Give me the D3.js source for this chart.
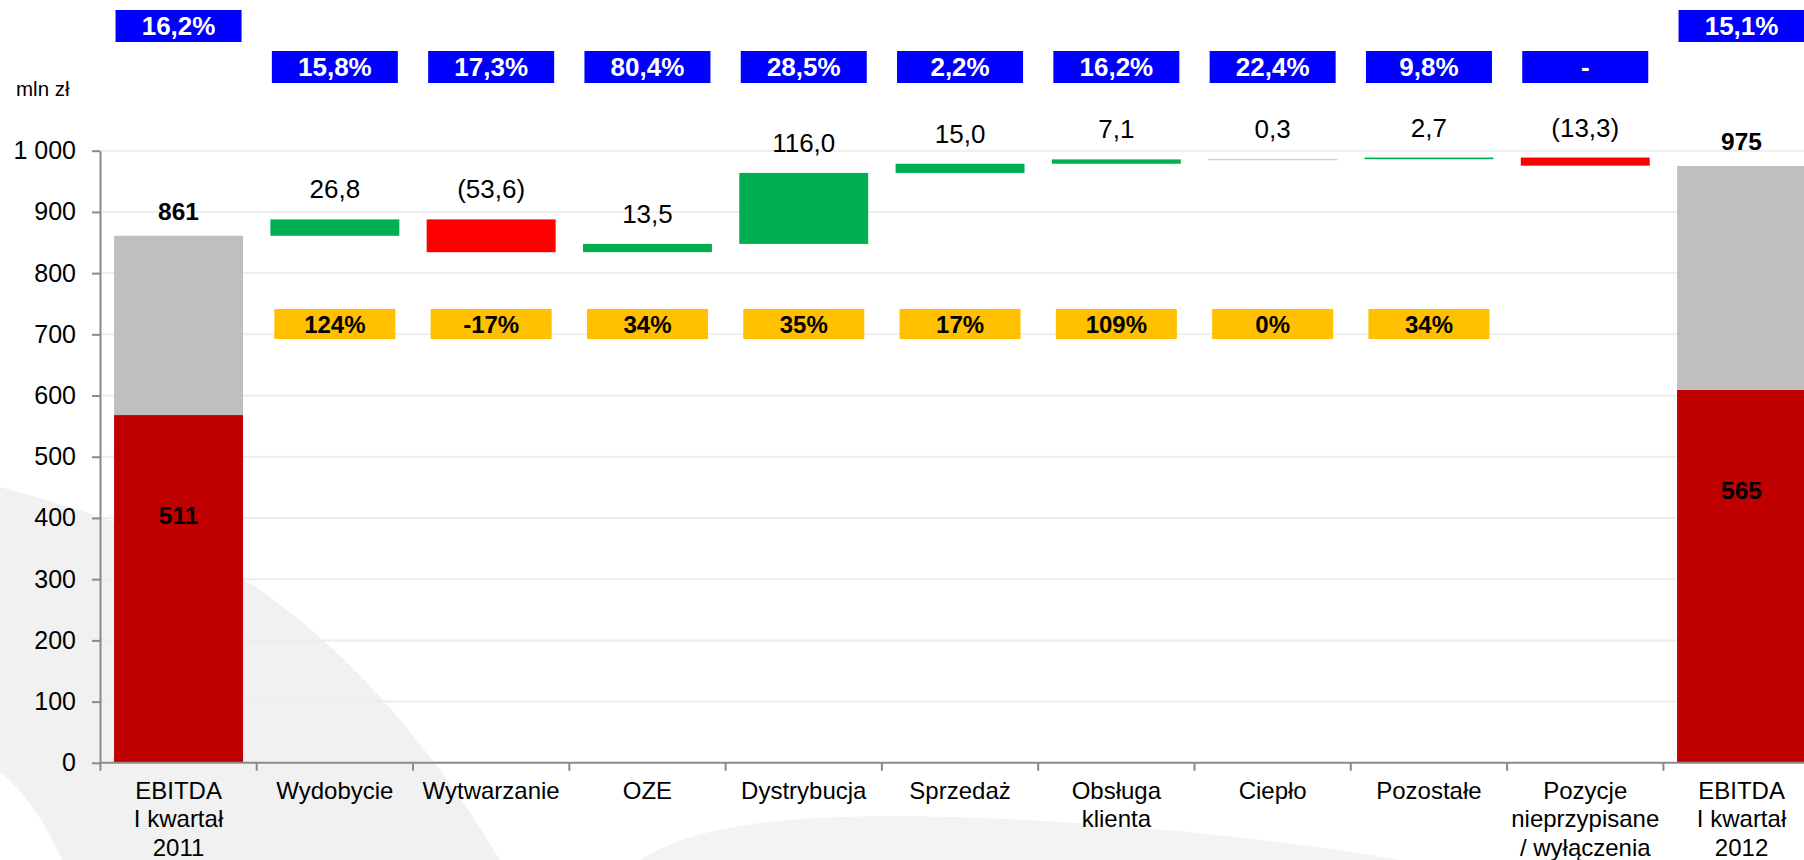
<!DOCTYPE html>
<html>
<head>
<meta charset="utf-8">
<script src="https://cdn.jsdelivr.net/npm/d3@7"></script>
<style>
  body { margin: 0; background: #fff; }
  text { font-family: "Liberation Sans", Arial, sans-serif; }
</style>
</head>
<body>
<div id="chart"></div>
<script>
// EBITDA waterfall: I kwartał 2011 -> I kwartał 2012 (mln zł)

const categories = [
    ["EBITDA", "I kwartał", "2011"],
    ["Wydobycie"],
    ["Wytwarzanie"],
    ["OZE"],
    ["Dystrybucja"],
    ["Sprzedaż"],
    ["Obsługa", "klienta"],
    ["Ciepło"],
    ["Pozostałe"],
    ["Pozycje", "nieprzypisane", "/ wyłączenia"],
    ["EBITDA", "I kwartał", "2012"]
];
const totals = [861, 975];
const deltas = [26.8, -53.6, 13.5, 116.0, 15.0, 7.1, 0.3, 2.7, -13.3];
const redParts = [568, 609];
const redLabels = ["511", "565"];
const marginLabels = ["16,2%", "15,8%", "17,3%", "80,4%", "28,5%", "2,2%", "16,2%", "22,4%", "9,8%", "-", "15,1%"];
const changeLabels = ["124%", "-17%", "34%", "35%", "17%", "109%", "0%", "34%"];
const yTicks = d3.range(0, 1001, 100);

function drawWaterfall() {
    const width = 1804;
    const height = 860;

    const svg = d3.select("#chart").append("svg")
        .attr("width", width)
        .attr("height", height);

    const x = d3.scaleBand()
        .domain(d3.range(categories.length))
        .range([100.4, 1819.7])
        .paddingInner(0.175)
        .paddingOuter(0.0875);

    const y = d3.scaleLinear()
        .domain([0, 1000])
        .range([762.8, 150.7]);

    const pl = d3.formatLocale({ decimal: ",", thousands: " ", grouping: [3], currency: ["", " zł"] });

    // build floating bars
    const rows = [];
    let run = totals[0];
    rows.push({ i: 0, type: "total", lo: 0, hi: totals[0] });
    deltas.forEach((d, k) => {
        const lo = Math.min(run, run + d), hi = Math.max(run, run + d);
        rows.push({ i: k + 1, type: "delta", v: d, lo: lo, hi: hi });
        run += d;
    });
    rows.push({ i: categories.length - 1, type: "total", lo: 0, hi: totals[1] });

    // faint background swoosh
    svg.append("path")
        .attr("d", "M0,487 C120,520 200,550 260,590 C360,660 440,760 500,860 L62,860 C45,822 25,792 0,772 Z")
        .attr("fill", "#f1f1f1");
    svg.append("path")
        .attr("d", "M640,860 C690,828 770,816 900,816 C1100,818 1300,842 1400,860 Z")
        .attr("fill", "#f3f3f3");

    // gridlines
    svg.append("g")
        .selectAll("line")
        .data(yTicks.filter(t => t > 0))
        .enter()
        .append("line")
        .attr("x1", 100).attr("x2", width)
        .attr("y1", d => y(d)).attr("y2", d => y(d))
        .attr("stroke", "#ededed")
        .attr("stroke-width", 2);

    const bw = x.bandwidth();

    // total bars: grey full height + red part
    const totalRows = rows.filter(r => r.type === "total");
    svg.append("g")
        .selectAll("rect")
        .data(totalRows)
        .enter()
        .append("rect")
        .attr("x", d => x(d.i))
        .attr("y", d => y(d.hi))
        .attr("width", bw)
        .attr("height", d => y(d.lo) - y(d.hi))
        .attr("fill", "#bfbfbf");

    svg.append("g")
        .selectAll("rect")
        .data(totalRows)
        .enter()
        .append("rect")
        .attr("x", d => x(d.i))
        .attr("y", (d, k) => y(redParts[k]))
        .attr("width", bw)
        .attr("height", (d, k) => y(0) - y(redParts[k]))
        .attr("fill", "#c00000");

    // delta bars
    const deltaRows = rows.filter(r => r.type === "delta");
    svg.append("g")
        .selectAll("rect")
        .data(deltaRows)
        .enter()
        .append("rect")
        .attr("x", d => x(d.i))
        .attr("y", d => y(d.hi))
        .attr("width", bw)
        .attr("height", d => Math.max(1, y(d.lo) - y(d.hi)))
        .attr("fill", d => d.v >= 0 ? "#00b050" : "#ff0000")
        .attr("opacity", d => Math.abs(d.v) < 1 ? 0.45 : 1);

    // y axis
    const yAxis = svg.append("g")
        .attr("transform", "translate(100,0)")
        .call(d3.axisLeft(y).tickValues(yTicks).tickSize(8).tickSizeOuter(0).tickPadding(16).tickFormat(pl.format(",")));
    yAxis.select(".domain").attr("stroke", "#8a8a8a").attr("stroke-width", 2);
    yAxis.selectAll(".tick line").attr("stroke", "#8a8a8a").attr("stroke-width", 2);
    yAxis.selectAll(".tick text")
        .attr("fill", "#000")
        .style("font-size", "25px")
        .style("font-family", "'Liberation Sans', Arial, sans-serif");

    // x axis line and boundary ticks
    svg.append("line")
        .attr("x1", 100).attr("x2", width)
        .attr("y1", y(0)).attr("y2", y(0))
        .attr("stroke", "#8a8a8a")
        .attr("stroke-width", 2);
    const step = x.step();
    svg.append("g")
        .selectAll("line")
        .data(d3.range(categories.length))
        .enter()
        .append("line")
        .attr("x1", i => x(i) - x.paddingOuter() * step)
        .attr("x2", i => x(i) - x.paddingOuter() * step)
        .attr("y1", y(0)).attr("y2", y(0) + 8)
        .attr("stroke", "#8a8a8a")
        .attr("stroke-width", 2);

    // category labels
    const catText = svg.append("g")
        .selectAll("text")
        .data(categories)
        .enter()
        .append("text")
        .attr("text-anchor", "middle")
        .style("font-size", "24px")
        .attr("fill", "#000");
    catText.selectAll("tspan")
        .data((lines, i) => lines.map(l => ({ l: l, i: i })))
        .enter()
        .append("tspan")
        .attr("x", d => x(d.i) + bw / 2)
        .attr("y", (d, k) => 799 + k * 28.3)
        .text(d => d.l);

    // unit
    svg.append("text")
        .attr("x", 16).attr("y", 96)
        .style("font-size", "20.5px")
        .text("mln zł");

    // delta value labels
    const fmt1 = v => Math.abs(v).toFixed(1).replace(".", ",");
    svg.append("g")
        .selectAll("text")
        .data(deltaRows)
        .enter()
        .append("text")
        .attr("x", d => x(d.i) + bw / 2)
        .attr("y", d => y(d.hi) - 21)
        .attr("text-anchor", "middle")
        .style("font-size", "26px")
        .text(d => d.v < 0 ? "(" + fmt1(d.v) + ")" : fmt1(d.v));

    // total labels
    svg.append("g")
        .selectAll("text")
        .data(totalRows)
        .enter()
        .append("text")
        .attr("x", d => x(d.i) + bw / 2)
        .attr("y", d => y(d.hi) - 16)
        .attr("text-anchor", "middle")
        .style("font-size", "24.5px")
        .style("font-weight", "bold")
        .text((d, k) => totals[k]);

    svg.append("g")
        .selectAll("text")
        .data(totalRows)
        .enter()
        .append("text")
        .attr("x", d => x(d.i) + bw / 2)
        .attr("y", (d, k) => y(redParts[k]) + 100)
        .attr("dy", "0.35em")
        .attr("text-anchor", "middle")
        .style("font-size", "24.5px")
        .style("font-weight", "bold")
        .text((d, k) => redLabels[k]);

    // blue margin boxes
    const boxW = 126, boxH = 32;
    const blue = svg.append("g")
        .selectAll("g")
        .data(marginLabels.map((t, i) => ({ t: t, i: i })))
        .enter()
        .append("g")
        .attr("transform", d => {
            const top = (d.i === 0 || d.i === categories.length - 1) ? 10 : 51;
            return `translate(${x(d.i) + bw / 2},${top})`;
        });
    blue.append("rect")
        .attr("x", -boxW / 2).attr("y", 0)
        .attr("width", boxW).attr("height", boxH)
        .attr("fill", "#0000ff");
    blue.append("text")
        .attr("y", boxH / 2)
        .attr("dy", "0.36em")
        .attr("text-anchor", "middle")
        .attr("fill", "#fff")
        .style("font-size", "26px")
        .style("font-weight", "bold")
        .text(d => d.t);

    // orange change boxes
    const oW = 121, oH = 30;
    const orange = svg.append("g")
        .selectAll("g")
        .data(changeLabels.map((t, k) => ({ t: t, i: k + 1 })))
        .enter()
        .append("g")
        .attr("transform", d => `translate(${x(d.i) + bw / 2},309)`);
    orange.append("rect")
        .attr("x", -oW / 2).attr("y", 0)
        .attr("width", oW).attr("height", oH)
        .attr("fill", "#ffc000");
    orange.append("text")
        .attr("y", oH / 2)
        .attr("dy", "0.36em")
        .attr("text-anchor", "middle")
        .attr("fill", "#000")
        .style("font-size", "24px")
        .style("font-weight", "bold")
        .text(d => d.t);
}

drawWaterfall();
</script>
</body>
</html>
